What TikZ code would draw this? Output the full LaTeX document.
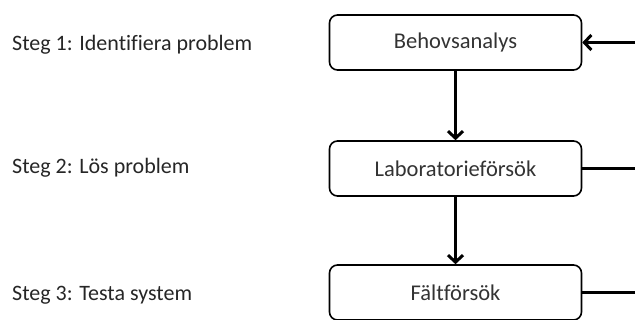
\documentclass[tikz,border=0pt]{standalone}
\usepackage{fontspec}
\setmainfont{Carlito}[Ligatures=NoCommon]
\usetikzlibrary{arrows.meta}
\begin{document}
\begin{tikzpicture}[x=1pt,y=-1pt,
  stepbox/.style={draw=black,line width=1.6pt,rounded corners=8pt,minimum width=252pt,minimum height=55pt,inner sep=0pt,font=\fontsize{22.5}{26}\selectfont,text=black!80},
  steplabel/.style={anchor=west,inner sep=0pt,font=\fontsize{22}{26}\selectfont,text=black!85},
  conn/.style={line width=3pt,-{Straight Barb[length=7pt,width=15pt,line width=3pt]}},
  plain/.style={line width=3pt}]
\useasboundingbox (0,0) rectangle (635,320);
\node[stepbox] (b1) at (455.5,42.5) {Behovsanalys};
\node[stepbox] (b2) at (455.5,168.5) {Laboratorieförsök};
\node[stepbox] (b3) at (455.5,292.5) {Fältförsök};
\node[steplabel] (s1) at (12,45) {Steg 1: Identifiera problem};
\node[steplabel] (s2) at (12,168) {Steg 2: Lös problem};
\node[steplabel] (s3) at (12,295) {Steg 3: Testa system};
\coordinate (e1) at (636,42.5);
\coordinate (e2) at (636,168.5);
\coordinate (e3) at (636,292.5);
\draw[conn] (b1) -- (b2);
\draw[conn] (b2) -- (b3);
\draw[conn] (e1) -- (b1);
\draw[plain] (b2) -- (e2);
\draw[plain] (b3) -- (e3);
\end{tikzpicture}
\end{document}
